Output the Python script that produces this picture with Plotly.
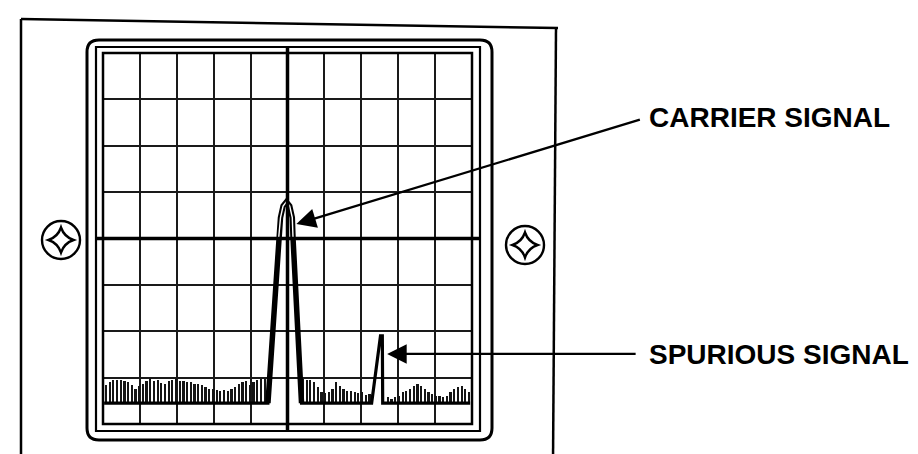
import plotly.graph_objects as go

# Spectrum analyzer display: graticule of 10 x 8 divisions
W, H = 918, 454
PL, PR, PT, PB = 95, 464, 45, 416   # graticule edges in pixels

# ---- data (in divisions) ----
NOISE_FLOOR = 0.45
BIN = 0.1

noise_left_start = 0.08
noise_left = [0.84, 0.90, 0.94, 0.95, 0.94, 0.92, 0.90, 0.84, 0.76, 0.82,
              0.86, 0.92, 1.00, 0.92, 0.95, 0.88, 0.87, 0.92, 0.95, 0.98,
              0.92, 0.93, 0.90, 0.90, 0.87, 0.86, 0.84, 0.80, 0.76, 0.76,
              0.74, 0.72, 0.74, 0.72, 0.76, 0.80, 0.86, 0.90, 0.92, 0.84,
              0.90, 0.94, 0.96, 0.96]

noise_mid_start = 5.42
noise_mid = [0.97, 0.94, 0.94, 0.90, 0.79, 0.69, 0.66, 0.69, 0.76, 0.90,
             0.83, 0.76, 0.72, 0.72, 0.69, 0.66, 0.69, 0.62, 0.64]

noise_right_start = 7.72
noise_right = [0.58, 0.54, 0.58, 0.61, 0.69, 0.72, 0.76, 0.83, 0.87, 0.83,
               0.76, 0.69, 0.65, 0.61, 0.61, 0.58, 0.61, 0.69, 0.76, 0.79,
               0.83, 0.76, 0.69]

floor_x = [0.03, 9.95]
carrier_x = [4.47, 4.76, 4.81, 4.88, 4.97, 5.06, 5.13, 5.15, 5.38]
carrier_y = [0.45, 4.00, 4.45, 4.70, 4.79, 4.70, 4.45, 4.00, 0.45]
spur_x = [7.28, 7.52, 7.57, 7.58]
spur_y = [0.45, 1.90, 1.90, 0.45]

carrier_tip = (5.24, 4.31)
spurious_tip = (7.70, 1.51)

LABELS = ["CARRIER SIGNAL", "SPURIOUS SIGNAL"]


def px(x):
    return (x - PL) / (PR - PL)


def py(y):
    return (PB - y) / (PB - PT)


def line(x0, y0, x1, y1, w=2.5, color="black"):
    return dict(type="line", xref="paper", yref="paper",
                x0=px(x0), y0=py(y0), x1=px(x1), y1=py(y1),
                line=dict(color=color, width=w), layer="above")


def round_rect(x0, y0, x1, y1, r, w=3):
    pts = [("M", x0 + r, y0), ("L", x1 - r, y0), ("Q", x1, y0, x1, y0 + r),
           ("L", x1, y1 - r), ("Q", x1, y1, x1 - r, y1), ("L", x0 + r, y1),
           ("Q", x0, y1, x0, y1 - r), ("L", x0, y0 + r), ("Q", x0, y0, x0 + r, y0)]
    path = ""
    for p in pts:
        cmd, coords = p[0], p[1:]
        xy = []
        for i in range(0, len(coords), 2):
            xy.append(f"{px(coords[i]):.5f},{py(coords[i + 1]):.5f}")
        path += cmd + " " + " ".join(xy) + " "
    return dict(type="path", xref="paper", yref="paper", path=path + "Z",
                line=dict(color="black", width=w))


def screw(cx, cy, r=19, a=12.5, k=3.2):
    circ = dict(type="circle", xref="paper", yref="paper",
                x0=px(cx - r), x1=px(cx + r), y0=py(cy + r), y1=py(cy - r),
                line=dict(color="black", width=2.4))
    pts = [(cx, cy - a), (cx + a, cy), (cx, cy + a), (cx - a, cy)]
    ctrl = [(cx + k, cy - k), (cx + k, cy + k), (cx - k, cy + k), (cx - k, cy - k)]
    path = f"M {px(pts[0][0]):.5f},{py(pts[0][1]):.5f} "
    for i in range(4):
        nx, ny = pts[(i + 1) % 4]
        qx, qy = ctrl[i]
        path += f"Q {px(qx):.5f},{py(qy):.5f} {px(nx):.5f},{py(ny):.5f} "
    star = dict(type="path", xref="paper", yref="paper", path=path + "Z",
                line=dict(color="black", width=2.4))
    return [circ, star]


fig = go.Figure()

for start, vals in [(noise_left_start, noise_left),
                    (noise_mid_start, noise_mid),
                    (noise_right_start, noise_right)]:
    xs = [start + i * BIN for i in range(len(vals))]
    fig.add_trace(go.Bar(x=xs, y=[v - NOISE_FLOOR for v in vals], base=NOISE_FLOOR,
                         width=0.06, marker=dict(color="#151515", line=dict(width=0)),
                         hoverinfo="skip", showlegend=False))

# full trace: floor -> carrier -> floor -> spurious -> floor
trace_x = [floor_x[0]] + carrier_x + spur_x + [floor_x[1]]
trace_y = [NOISE_FLOOR] + carrier_y + spur_y + [NOISE_FLOOR]
fig.add_trace(go.Scatter(x=trace_x, y=trace_y, mode="lines",
                         line=dict(color="black", width=3.2),
                         hoverinfo="skip", showlegend=False))
# carrier drawn as a double stroke
fig.add_trace(go.Scatter(x=carrier_x, y=carrier_y, mode="lines",
                         line=dict(color="black", width=5.5),
                         hoverinfo="skip", showlegend=False))
fig.add_trace(go.Scatter(x=carrier_x[1:-1], y=carrier_y[1:-1], mode="lines",
                         line=dict(color="white", width=1.4),
                         hoverinfo="skip", showlegend=False))

shapes = []
# outer instrument panel
shapes += [line(13, 11, 550, 20, 2.5), line(13, 11, 13, 451, 2.5),
           line(13, 451, 225, 452, 2.5), line(548, 20, 545, 454, 2.5)]
# bezel and screen frame
shapes.append(round_rect(79, 32, 484, 432, 12, 3))
shapes.append(dict(type="rect", xref="paper", yref="paper",
                   x0=px(88), x1=px(472), y0=py(423), y1=py(39),
                   line=dict(color="black", width=2.2)))
shapes.append(dict(type="rect", xref="paper", yref="paper",
                   x0=0, x1=1, y0=0, y1=1, line=dict(color="black", width=2.5)))
# center cross of the graticule
shapes.append(dict(type="line", xref="x", yref="paper", x0=5, x1=5,
                   y0=py(423), y1=py(39), line=dict(color="black", width=3.5)))
shapes.append(dict(type="line", xref="paper", yref="y", x0=px(88), x1=px(472),
                   y0=4, y1=4, line=dict(color="black", width=3.5)))
# mounting screws
shapes += screw(53, 232)
shapes += screw(517, 237)

label_font = dict(family="Liberation Sans, Arial, sans-serif", size=28, color="black")
annotations = [
    dict(x=carrier_tip[0], y=carrier_tip[1], xref="x", yref="y", text="",
         showarrow=True, ax=345, ay=-105, arrowhead=2, arrowsize=1.7,
         arrowwidth=2.3, arrowcolor="black"),
    dict(x=spurious_tip[0], y=spurious_tip[1], xref="x", yref="y", text="",
         showarrow=True, ax=250, ay=0, arrowhead=2, arrowsize=1.7,
         arrowwidth=2.3, arrowcolor="black"),
    dict(x=px(640), y=py(110), xref="paper", yref="paper", text="<b>" + LABELS[0] + "</b>",
         showarrow=False, xanchor="left", yanchor="middle", borderpad=0, font=label_font),
    dict(x=px(640), y=py(346), xref="paper", yref="paper", text="<b>" + LABELS[1] + "</b>",
         showarrow=False, xanchor="left", yanchor="middle", borderpad=0, font=label_font),
]

fig.update_layout(
    width=W, height=H,
    margin=dict(l=PL, r=W - PR, t=PT, b=H - PB),
    plot_bgcolor="white", paper_bgcolor="white",
    barmode="overlay", bargap=0,
    shapes=shapes, annotations=annotations,
    showlegend=False,
)
fig.update_xaxes(range=[0, 10], dtick=1, showgrid=True, gridcolor="#1a1a1a", gridwidth=1.8,
                 showticklabels=False, zeroline=False, showline=False, ticks="", fixedrange=True)
fig.update_yaxes(range=[0, 8], dtick=1, showgrid=True, gridcolor="#1a1a1a", gridwidth=1.8,
                 showticklabels=False, zeroline=False, showline=False, ticks="", fixedrange=True)

fig.write_html("out.html", config={"displayModeBar": False})
